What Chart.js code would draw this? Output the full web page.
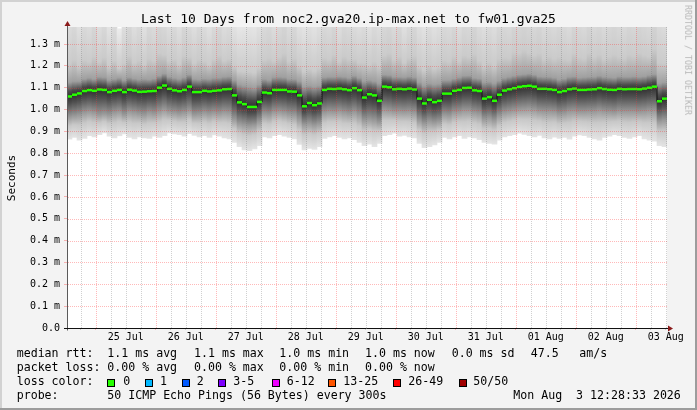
<!DOCTYPE html>
<html><head><meta charset="utf-8">
<script src="https://cdn.jsdelivr.net/npm/chart.js@4.4.1/dist/chart.umd.min.js"></script>
<style>
html,body{margin:0;padding:0;background:#f3f3f3;}
#wrap{position:relative;width:697px;height:410px;background:#f3f3f3;overflow:hidden;font-family:'DejaVu Sans Mono',monospace;color:#000;}
#chartBox{position:absolute;left:0;top:0;width:697px;height:410px;}
.t{position:absolute;white-space:pre;font-size:11.6px;line-height:11.6px;}
.box{position:absolute;width:8px;height:8px;box-sizing:border-box;border:1px solid #000;}
.edge{position:absolute;}
#title{position:absolute;left:0;top:12px;width:697px;text-align:center;font-size:13px;line-height:13px;white-space:pre;}
#ylab{position:absolute;left:10.5px;top:178px;font-size:11px;line-height:11px;transform:translate(-50%,-50%) rotate(-90deg);white-space:pre;}
#wm{position:absolute;left:687.5px;top:60px;font-size:8.3px;line-height:8.3px;color:#b8b8b8;transform:translate(-50%,-50%) rotate(90deg);white-space:pre;}
</style></head>
<body>
<div id="wrap">
  <div id="chartBox"><canvas id="c" width="697" height="410"></canvas></div>
  <div class="edge" style="left:0;top:0;width:697px;height:2px;background:#d2d2d2"></div>
  <div class="edge" style="left:0;top:0;width:2px;height:410px;background:#d2d2d2"></div>
  <div class="edge" style="left:0;top:408px;width:697px;height:2px;background:#9c9c9c"></div>
  <div class="edge" style="left:695px;top:0;width:2px;height:410px;background:#9c9c9c"></div>
  <div id="title">Last 10 Days from noc2.gva20.ip-max.net to fw01.gva25</div>
  <div id="ylab">Seconds</div>
  <div id="wm">RRDTOOL / TOBI OETIKER</div>
  <div id="legend"></div>
</div>
<script>
// ---------- data (values in milliseconds) ----------
const slotStartHour = 12.476;   // hours after 24 Jul 00:00 (start of the 10 day window)
const slotHours = 2;

const medianRtt = [
1.060,1.068,1.074,1.085,1.089,1.086,1.092,1.090,1.080,1.086,
1.090,1.080,1.091,1.087,1.081,1.082,1.084,1.085,1.100,1.110,
1.095,1.088,1.084,1.090,1.105,1.080,1.080,1.086,1.083,1.086,
1.088,1.093,1.094,1.065,1.033,1.025,1.012,1.012,1.035,1.078,
1.075,1.090,1.090,1.090,1.083,1.082,1.065,1.015,1.030,1.020,
1.028,1.090,1.095,1.094,1.096,1.093,1.089,1.098,1.089,1.055,
1.070,1.065,1.040,1.105,1.102,1.093,1.095,1.093,1.096,1.092,
1.050,1.028,1.045,1.034,1.040,1.073,1.073,1.086,1.090,1.099,
1.100,1.088,1.085,1.050,1.057,1.040,1.068,1.087,1.093,1.098,
1.104,1.107,1.109,1.105,1.095,1.095,1.093,1.090,1.080,1.085,
1.093,1.096,1.090,1.090,1.092,1.093,1.098,1.094,1.091,1.090,
1.095,1.093,1.094,1.094,1.093,1.096,1.100,1.105,1.038,1.050];

const smokeHi = [
1.55,1.62,1.48,1.58,1.52,1.66,1.50,1.60,1.45,1.56,
1.37,1.52,1.64,1.50,1.58,1.47,1.62,1.55,1.68,1.60,
1.52,1.58,1.48,1.64,1.56,1.50,1.60,1.54,1.47,1.58,1.66,1.52,1.56,
1.46,1.42,1.43,1.45,1.44,1.50,
1.58,1.64,1.52,1.60,1.70,1.55,1.62,
1.48,1.45,1.50,1.46,1.52,
1.60,1.55,1.66,1.50,1.62,1.58,1.54,
1.50,1.56,1.48,1.58,1.52,
1.60,1.66,1.55,1.62,1.48,1.58,1.64,
1.50,1.46,1.55,1.48,1.52,
1.60,1.56,1.66,1.52,1.62,1.58,1.70,1.55,1.50,1.58,1.52,1.64,
1.62,1.58,1.70,1.66,1.72,1.64,1.60,1.68,1.56,1.62,1.58,1.66,1.60,1.54,1.68,1.62,
1.58,1.70,1.60,1.64,1.56,1.62,1.68,1.60,1.58,1.66,1.62,1.70,1.64,1.58,1.75,
1.60,1.56];

const smokeQ3 = [
1.125,1.130,1.130,1.140,1.145,1.140,1.150,1.148,1.135,1.140,
1.145,1.135,1.148,1.142,1.138,1.140,1.138,1.142,1.155,1.165,
1.150,1.145,1.140,1.148,1.160,1.140,1.138,1.142,1.140,1.145,1.146,1.150,1.152,
1.135,1.115,1.110,1.105,1.100,1.115,
1.140,1.135,1.148,1.150,1.148,1.140,1.140,
1.130,1.105,1.110,1.105,1.110,
1.148,1.150,1.150,1.152,1.150,1.145,1.155,
1.145,1.130,1.135,1.130,1.120,
1.160,1.158,1.150,1.150,1.148,1.152,1.148,
1.125,1.110,1.120,1.115,1.118,
1.135,1.135,1.142,1.148,1.155,1.156,1.145,1.142,1.125,1.128,1.120,1.132,
1.145,1.150,1.155,1.160,1.162,1.165,1.160,1.152,1.150,1.150,1.146,1.138,1.142,1.150,1.152,1.146,
1.148,1.150,1.150,1.155,1.150,1.148,1.146,1.152,1.150,1.150,1.152,1.150,1.152,1.158,1.162,
1.120,1.125];

const smokeQ1 = [
0.965,0.970,0.975,0.985,0.990,0.985,0.975,0.980,0.975,0.985,
0.990,0.975,0.990,0.985,0.980,0.975,0.985,0.980,0.990,1.000,
0.990,0.985,0.980,0.985,0.995,0.975,0.978,0.985,0.980,0.985,0.982,0.988,0.985,
0.955,0.935,0.930,0.925,0.928,0.945,
0.978,0.975,0.988,0.990,0.985,0.978,0.975,
0.955,0.930,0.935,0.928,0.935,
0.985,0.990,0.988,0.992,0.985,0.980,0.988,
0.975,0.950,0.955,0.950,0.940,
0.998,0.995,0.990,0.990,0.988,0.990,0.985,
0.950,0.935,0.945,0.940,0.945,
0.975,0.972,0.985,0.988,0.995,0.995,0.985,0.980,0.955,0.960,0.950,0.970,
0.985,0.990,0.995,1.000,1.002,1.005,1.000,0.992,0.990,0.990,0.988,0.978,0.982,0.990,0.992,0.988,
0.988,0.990,0.990,0.995,0.990,0.988,0.985,0.992,0.990,0.990,0.990,0.988,0.990,0.995,0.995,
0.945,0.950];

const smokeLo = [
0.865,0.872,0.860,0.868,0.880,0.875,0.885,0.893,0.878,0.870,
0.880,0.888,0.872,0.866,0.875,0.870,0.868,0.878,0.872,0.880,
0.893,0.888,0.885,0.878,0.890,0.882,0.875,0.880,0.872,0.884,0.878,0.870,0.866,
0.850,0.830,0.815,0.812,0.820,0.835,
0.875,0.870,0.880,0.885,0.878,0.872,0.866,
0.840,0.815,0.822,0.818,0.830,
0.868,0.875,0.880,0.872,0.866,0.870,0.862,
0.850,0.835,0.842,0.830,0.845,
0.880,0.885,0.892,0.878,0.882,0.875,0.870,
0.845,0.825,0.830,0.838,0.850,
0.872,0.866,0.875,0.880,0.868,0.875,0.870,0.862,0.850,0.845,0.842,0.860,
0.875,0.880,0.885,0.892,0.886,0.880,0.875,0.882,0.870,0.866,0.874,0.868,0.872,0.865,0.878,0.884,
0.880,0.872,0.866,0.860,0.872,0.878,0.885,0.880,0.872,0.868,0.875,0.880,0.866,0.860,0.855,
0.835,0.830];

const yTickValues = [0.0,0.1,0.2,0.3,0.4,0.5,0.6,0.7,0.8,0.9,1.0,1.1,1.2,1.3];
const yTickLabels = ['0.0','0.1 m','0.2 m','0.3 m','0.4 m','0.5 m','0.6 m','0.7 m','0.8 m','0.9 m','1.0 m','1.1 m','1.2 m','1.3 m'];
const dayLabels = ['25 Jul','26 Jul','27 Jul','28 Jul','29 Jul','30 Jul','31 Jul','01 Aug','02 Aug','03 Aug'];
const firstLabelHour = 36;   // noon 25 Jul

const lossLabels = ['0','1','2','3-5','6-12','13-25','26-49','50/50'];
const lossColors = ['#26ff00','#00b8ff','#0059ff','#7e00ff','#ee00ff','#ff5500','#ff0000','#a10000'];

// ---------- legend (HTML text) ----------
const legendRows = [
  {top:348, items:[[16.7,'median rtt:'],[107.3,'1.1 ms avg'],[194,'1.1 ms max'],[279.3,'1.0 ms min'],[365,'1.0 ms now'],[451.7,'0.0 ms sd'],[530.7,'47.5'],[579.3,'am/s']]},
  {top:362, items:[[16.7,'packet loss:'],[107.3,'0.00 % avg'],[194,'0.00 % max'],[279.3,'0.00 % min'],[365,'0.00 % now']]},
  {top:376, items:[[16.7,'loss color:']]},
  {top:390, items:[[16.7,'probe:'],[107.3,'50 ICMP Echo Pings (56 Bytes) every 300s'],[513.3,'Mon Aug  3 12:28:33 2026']]}
];
const boxX = [107.3,145,181.7,218.3,271.7,328.3,393.3,458.7];
const boxLabelX = [123.3,160,196.7,233.3,286.7,343.3,408.3,473.3];
const leg = document.getElementById('legend');
legendRows.forEach(r => r.items.forEach(([x,s]) => {
  const d = document.createElement('div'); d.className='t'; d.style.left=x+'px'; d.style.top=r.top+'px'; d.textContent=s; leg.appendChild(d);
}));
lossLabels.forEach((lab,i) => {
  const b = document.createElement('div'); b.className='box'; b.style.left=boxX[i]+'px'; b.style.top='378.5px'; b.style.background=lossColors[i]; leg.appendChild(b);
  const d = document.createElement('div'); d.className='t'; d.style.left=boxLabelX[i]+'px'; d.style.top='376px'; d.textContent=lab; leg.appendChild(d);
});

// ---------- chart ----------
const slotX = i => slotStartHour + slotHours*(i + 0.5);
const smokeData = medianRtt.map((m,i) => ({x: slotX(i), y: [smokeLo[i], smokeHi[i]]}));
const medianData = medianRtt.map((m,i) => ({x: slotX(i), y: m}));

function smokeFill(c){
  const chart = c.chart, ys = chart.scales && chart.scales.y;
  if (c.type !== 'data' || !ys) return '#d0d0d0';
  const i = c.dataIndex;
  const hi = smokeHi[i], q3 = smokeQ3[i], md = medianRtt[i], q1 = smokeQ1[i], lo = smokeLo[i];
  const pHi = ys.getPixelForValue(hi), pLo = ys.getPixelForValue(lo);
  if (!isFinite(pHi) || !isFinite(pLo) || !(pLo > pHi)) return '#d0d0d0';
  const span = pLo - pHi;
  const f = v => Math.min(1, Math.max(0, (ys.getPixelForValue(v) - pHi) / span));
  const g = chart.ctx.createLinearGradient(0, pHi, 0, pLo);
  g.addColorStop(0, '#ececec');
  g.addColorStop(f(q3 + (hi - q3) * 0.2), '#cbcbcb');
  g.addColorStop(f(q3), '#a0a0a0');
  g.addColorStop(f(md + (q3 - md) * 0.35), '#4c4c4c');
  g.addColorStop(f(md), '#303030');
  g.addColorStop(f(md - (md - q1) * 0.35), '#505050');
  g.addColorStop(f(q1), '#9a9a9a');
  g.addColorStop(f(q1 - (q1 - lo) * 0.4), '#c8c8c8');
  g.addColorStop(1, '#e4e4e4');
  return g;
}

const MAJOR = 'rgba(255,50,50,0.34)';
const MINOR = 'rgba(110,110,110,0.32)';

const framePlugin = {
  id: 'framePlugin',
  beforeDraw(chart){
    const {ctx, chartArea:a} = chart;
    ctx.save(); ctx.fillStyle = '#ffffff';
    ctx.fillRect(a.left, a.top, a.right - a.left, a.bottom - a.top);
    ctx.restore();
  },
  afterDatasetsDraw(chart){
    // dotted grid drawn over the smoke, positioned by the chart's own scales
    const {ctx, chartArea:a, scales} = chart;
    const xs = scales.x, ys = scales.y;
    ctx.save();
    ctx.fillStyle = MAJOR;
    ys.ticks.forEach(t => {
      if (t.value === 0) return;
      const py = Math.round(ys.getPixelForValue(t.value));
      for (let px = Math.round(a.left) + 1; px < a.right; px += 2) ctx.fillRect(px, py, 1, 1);
    });
    xs.ticks.forEach(t => {
      const px = Math.round(xs.getPixelForValue(t.value));
      ctx.fillStyle = (t.value % 24 === 0) ? MAJOR : MINOR;
      for (let py = Math.round(a.top); py < a.bottom; py += 2) ctx.fillRect(px, py, 1, 1);
    });
    ctx.restore();
  },
  afterDraw(chart){
    const {ctx, chartArea:a} = chart;
    const y0 = Math.round(chart.scales.y.getPixelForValue(0)) + 0.5;
    const xl = Math.round(a.left) + 0.5;
    ctx.save();
    ctx.lineWidth = 1;
    ctx.strokeStyle = '#5a5a5a';
    ctx.beginPath(); ctx.moveTo(xl, y0 + 2); ctx.lineTo(xl, a.top - 4); ctx.stroke();
    ctx.strokeStyle = '#111111';
    ctx.beginPath(); ctx.moveTo(a.left - 3, y0); ctx.lineTo(a.right + 2, y0); ctx.stroke();
    ctx.fillStyle = '#8b1a1a';
    ctx.beginPath(); ctx.moveTo(xl, a.top - 6); ctx.lineTo(xl - 3, a.top - 1); ctx.lineTo(xl + 3, a.top - 1); ctx.closePath(); ctx.fill();
    ctx.beginPath(); ctx.moveTo(a.right + 6, y0); ctx.lineTo(a.right + 1, y0 - 3); ctx.lineTo(a.right + 1, y0 + 3); ctx.closePath(); ctx.fill();
    ctx.restore();
  }
};

Chart.defaults.font.family = "'DejaVu Sans Mono', monospace";
Chart.defaults.font.size = 10;
Chart.defaults.color = '#000';

const chart = new Chart(document.getElementById('c'), {
  type: 'bar',
  data: {
    datasets: [
      {type:'line', label:'median', data: medianData, showLine:false, pointStyle:'line', pointRadius:2.5,
       pointBorderWidth:2.5, pointBorderColor:'#26ff00', pointBackgroundColor:'#26ff00', order:0},
      {type:'line', label:'median line', data: medianData, stepped:'middle', borderColor:'#101010', borderWidth:1,
       pointRadius:0, fill:false, order:1},
      {type:'bar', label:'smoke', data: smokeData, backgroundColor: smokeFill, borderWidth:0,
       barPercentage:1, categoryPercentage:1, order:2}
    ]
  },
  options: {
    responsive:false, animation:false, devicePixelRatio:1, events:[],
    layout:{padding:{left:0, right:30, top:27, bottom:0}},
    plugins:{legend:{display:false}, tooltip:{enabled:false}, title:{display:false}},
    scales:{
      x:{type:'linear', min: slotStartHour, max: slotStartHour + 240, offset:false,
        grid:{offset:false, drawOnChartArea:false, drawTicks:true, tickLength:2, lineWidth:1,
          tickColor: c => (c.tick && c.tick.value % 24 === 0) ? MAJOR : MINOR},
        border:{display:false},
        afterBuildTicks: s => {
          const t = [];
          for (let h = Math.ceil(s.min / 6) * 6; h <= s.max; h += 6) t.push({value:h});
          s.ticks = t;
        },
        afterFit: s => { s.height = 82; },
        ticks:{autoSkip:false, maxRotation:0, minRotation:0, padding:1,
          callback: v => ((v - firstLabelHour) % 24 === 0 && v >= firstLabelHour) ? dayLabels[(v - firstLabelHour)/24] : ''}
      },
      y:{type:'linear', min:0, max:1.378,
        grid:{drawOnChartArea:false, drawTicks:true, tickLength:3, tickColor: MAJOR, lineWidth:1},
        border:{display:false},
        afterBuildTicks: s => { s.ticks = yTickValues.map(v => ({value:v})); },
        afterFit: s => { s.width = 67; },
        ticks:{padding:4, callback: (v, i) => yTickLabels[i]}
      }
    }
  },
  plugins:[framePlugin]
});
chart.update('none');
</script>
</body></html>
